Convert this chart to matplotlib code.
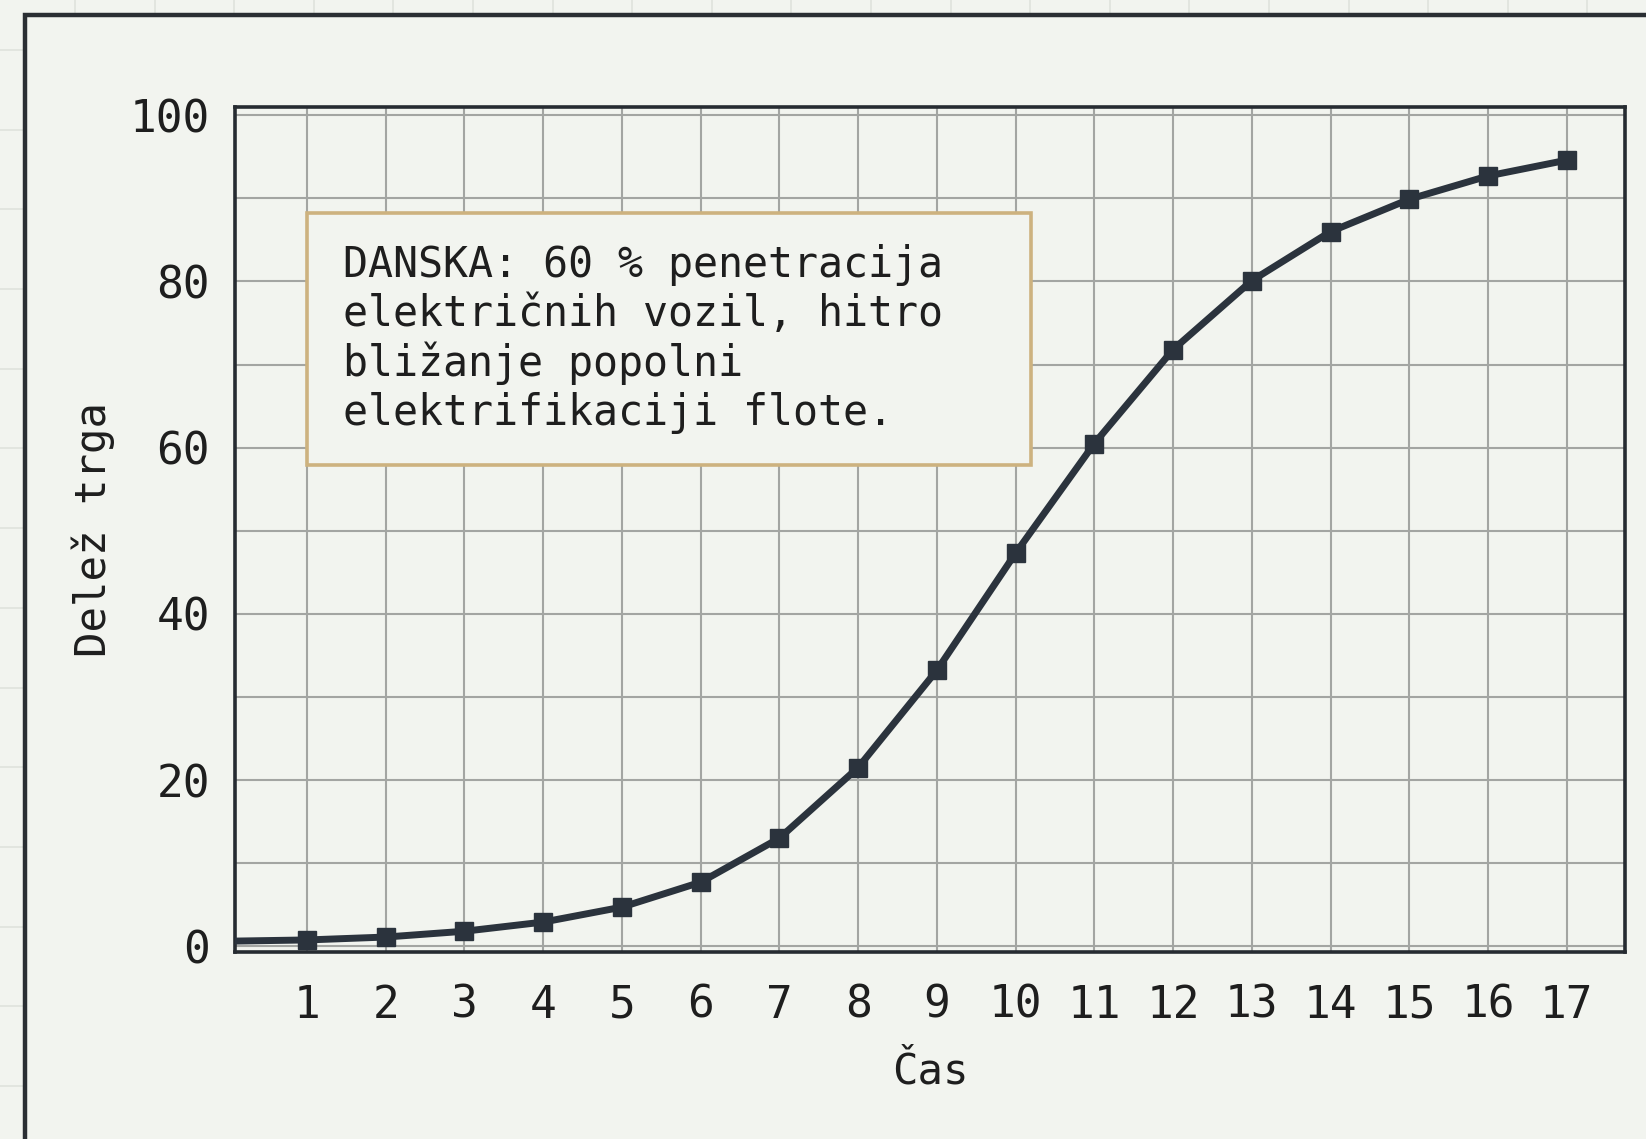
import numpy as np
import matplotlib

matplotlib.use("Agg")
import matplotlib.pyplot as plt
from matplotlib.lines import Line2D
from matplotlib.patches import Rectangle

# --- data ---
cas = [0, 1, 2, 3, 4, 5, 6, 7, 8, 9, 10, 11, 12, 13, 14, 15, 16, 17]
delez = [0.6, 0.75, 1.1, 1.8, 2.9, 4.7, 7.7, 13.0, 21.5, 33.2, 47.3,
         60.5, 71.8, 80.1, 86.0, 89.9, 92.7, 94.6]
x_ticks = list(range(1, 18))
y_ticks = [0, 20, 40, 60, 80, 100]
note = ("DANSKA: 60 % penetracija\n"
        "električnih vozil, hitro\n"
        "bližanje popolni\n"
        "elektrifikaciji flote.")

BG = "#f2f4ef"
INK = "#2b333d"
TXT = "#1e1e1e"
GRID = "#a3a5a2"
FONT = "DejaVu Sans Mono"

W, H = 1646, 1139
# axes box in pixels (left, right, top, bottom)
AL, AR, AT, AB = 235, 1625, 107, 952
AW, AH = AR - AL, AB - AT

fig = plt.figure(figsize=(W / 100, H / 100), dpi=100, facecolor=BG)

# paper grid outside the card
for xp in np.arange(75, W, 79.6):
    fig.add_artist(Line2D([xp / W, xp / W], [1 - 15 / H, 1], transform=fig.transFigure,
                          color="#dfe2dc", lw=1.2, zorder=0))
for yp in np.arange(50, H, 79.7):
    fig.add_artist(Line2D([0, 25 / W], [1 - yp / H, 1 - yp / H], transform=fig.transFigure,
                          color="#dfe2dc", lw=1.2, zorder=0))
# card frame (runs off right and bottom)
fig.add_artist(Rectangle((25 / W, -0.5), 2, 1 - 15 / H + 0.5, transform=fig.transFigure,
                         fill=False, ec="#2a2e33", lw=3.2, zorder=1))

ax = fig.add_axes([AL / W, 1 - AB / H, AW / W, AH / H])
ax.set_facecolor(BG)

ax.plot(cas, delez, color=INK, lw=5.0, marker="s", ms=13,
        markevery=list(range(1, len(cas))), solid_capstyle="butt",
        solid_joinstyle="round", zorder=4)

ax.set_xlim(0.086, 17.74)
ax.set_ylim(-0.7, 101)
ax.set_xticks(x_ticks)
ax.set_yticks(y_ticks)
ax.set_yticks(list(range(10, 100, 20)), minor=True)
ax.grid(True, which="both", color=GRID, lw=1.5, zorder=0)
ax.set_axisbelow(True)
ax.tick_params(axis="both", which="both", length=0, labelsize=32, labelcolor=TXT)
ax.tick_params(axis="x", pad=23)
ax.tick_params(axis="y", pad=18)
for lab in ax.get_xticklabels() + ax.get_yticklabels():
    lab.set_family(FONT)

for sp in ax.spines.values():
    sp.set_color("#262b31")
    sp.set_linewidth(2.6)

ax.set_xlabel("Čas", fontsize=30.5, family=FONT, color=TXT)
ax.set_ylabel("Delež trga", fontsize=30.5, family=FONT, color=TXT)
ax.xaxis.set_label_coords(0.5, -(1051 - AB) / AH)
ax.yaxis.set_label_coords(-(AL - 115) / AW, 0.5)

# annotation card
ax.add_patch(Rectangle(((306.5 - AL) / AW, (AB - 465) / AH),
                       (1031 - 306.5) / AW, (465 - 213) / AH,
                       transform=ax.transAxes, facecolor=BG, edgecolor="#cdb27f",
                       lw=2.6, zorder=5))
ax.text((343 - AL) / AW, (AB - 244) / AH, note,
        transform=ax.transAxes, ha="left", va="top", fontsize=30, family=FONT,
        color=TXT, linespacing=1.2, zorder=6)

fig.savefig("out.png", dpi=100, facecolor=BG)
